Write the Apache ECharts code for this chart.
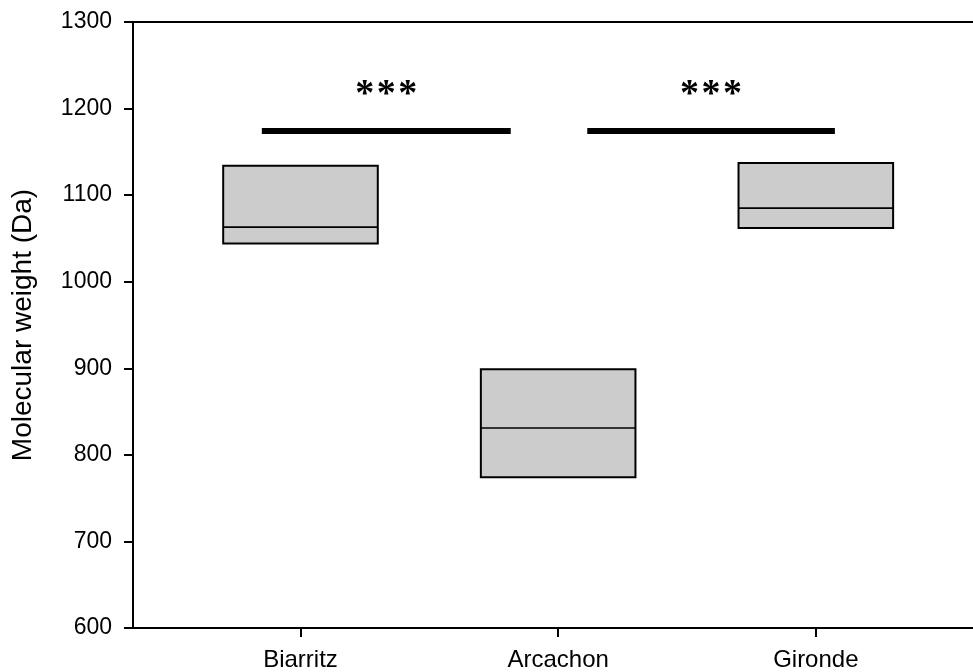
<!DOCTYPE html>
<html>
<head>
<meta charset="utf-8">
<script src="https://cdn.jsdelivr.net/npm/echarts@6/dist/echarts.min.js"></script>
<style>html,body{margin:0;padding:0;background:#fff}#c{width:973px;height:672px}</style>
</head>
<body>
<div id="c"></div>
<script>
var categories = ['Biarritz', 'Arcachon', 'Gironde'];
var categoryPos = [1, 2, 3];
var q1 = [1044, 774, 1062];
var median = [1063, 831, 1085];
var q3 = [1134, 899, 1137];
var yTicks = [600, 700, 800, 900, 1000, 1100, 1200, 1300];
var sigStart = [0.85, 2.113];
var sigEnd = [1.816, 3.074];
var sigLevel = [1174, 1174];
var sigText = ['***', '***'];
var sigTextLevel = [1215, 1215];

var boxData = categoryPos.map(function (x, i) { return [x, q1[i], median[i], q3[i]]; });
var sigData = sigStart.map(function (s, i) { return [s, sigEnd[i], sigLevel[i], sigTextLevel[i]]; });
var BOXW = 0.6;

var chart = echarts.init(document.getElementById('c'), null, {renderer: 'canvas'});
var font = 'Liberation Sans, Arial, sans-serif';
chart.setOption({
  animation: false,
  backgroundColor: '#ffffff',
  grid: {left: 133, right: 0, top: 22, bottom: 44, containLabel: false, outerBoundsMode: 'none'},
  xAxis: [{
    type: 'value', min: 0.35, max: 3.61, position: 'bottom',
    axisLine: {show: true, lineStyle: {color: '#000', width: 2}},
    axisTick: {show: true, length: 9, lineStyle: {color: '#000', width: 2}, customValues: categoryPos},
    axisLabel: {show: true, customValues: categoryPos, color: '#000', fontSize: 24, fontFamily: font, margin: 20,
      formatter: function (v) { var i = categoryPos.indexOf(Math.round(v)); return i >= 0 ? categories[i] : ''; }},
    splitLine: {show: false}
  }, {
    type: 'value', min: 0.35, max: 3.61, position: 'top',
    axisLine: {show: true, onZero: false, lineStyle: {color: '#000', width: 2}},
    axisTick: {show: false}, axisLabel: {show: false}, splitLine: {show: false}
  }],
  yAxis: {
    type: 'value', min: 600, max: 1300, interval: 100,
    name: 'Molecular weight (Da)', nameLocation: 'middle', nameGap: 96,
    nameTextStyle: {color: '#000', fontSize: 28, fontFamily: font},
    axisLine: {show: true, lineStyle: {color: '#000', width: 2}},
    axisTick: {show: true, length: 9, lineStyle: {color: '#000', width: 2}},
    axisLabel: {color: '#000', fontSize: 23, fontFamily: font, margin: 21,
      formatter: function (v) { return yTicks.indexOf(v) >= 0 ? String(v) : ''; }},
    splitLine: {show: false}
  },
  series: [{
    type: 'custom',
    data: boxData,
    renderItem: function (params, api) {
      var x = api.value(0);
      var a = api.coord([x - BOXW / 2, api.value(3)]);
      var b = api.coord([x + BOXW / 2, api.value(1)]);
      var m1 = api.coord([x - BOXW / 2, api.value(2)]);
      var m2 = api.coord([x + BOXW / 2, api.value(2)]);
      return {type: 'group', children: [
        {type: 'rect', shape: {x: a[0], y: a[1], width: b[0] - a[0], height: b[1] - a[1]},
          style: {fill: '#cccccc', stroke: '#000', lineWidth: 2}},
        {type: 'line', shape: {x1: m1[0], y1: m1[1], x2: m2[0], y2: m2[1]},
          style: {stroke: '#000', lineWidth: 1.6}}
      ]};
    }
  }, {
    type: 'custom',
    data: sigData,
    renderItem: function (params, api) {
      var p1 = api.coord([api.value(0), api.value(2)]);
      var p2 = api.coord([api.value(1), api.value(2)]);
      var t = api.coord([(api.value(0) + api.value(1)) / 2, api.value(3)]);
      var chars = sigText[params.dataIndex].split('');
      var children = [{type: 'line', shape: {x1: p1[0], y1: p1[1], x2: p2[0], y2: p2[1]},
        style: {stroke: '#000', lineWidth: 6}}];
      var gap = 21.5;
      chars.forEach(function (ch, k) {
        children.push({type: 'text', x: t[0] + (k - (chars.length - 1) / 2) * gap, y: t[1],
          style: {text: ch, fill: '#000', font: 'bold 38px "Liberation Serif", serif',
            align: 'center', verticalAlign: 'middle'}});
      });
      return {type: 'group', children: children};
    }
  }]
});
</script>
</body>
</html>
